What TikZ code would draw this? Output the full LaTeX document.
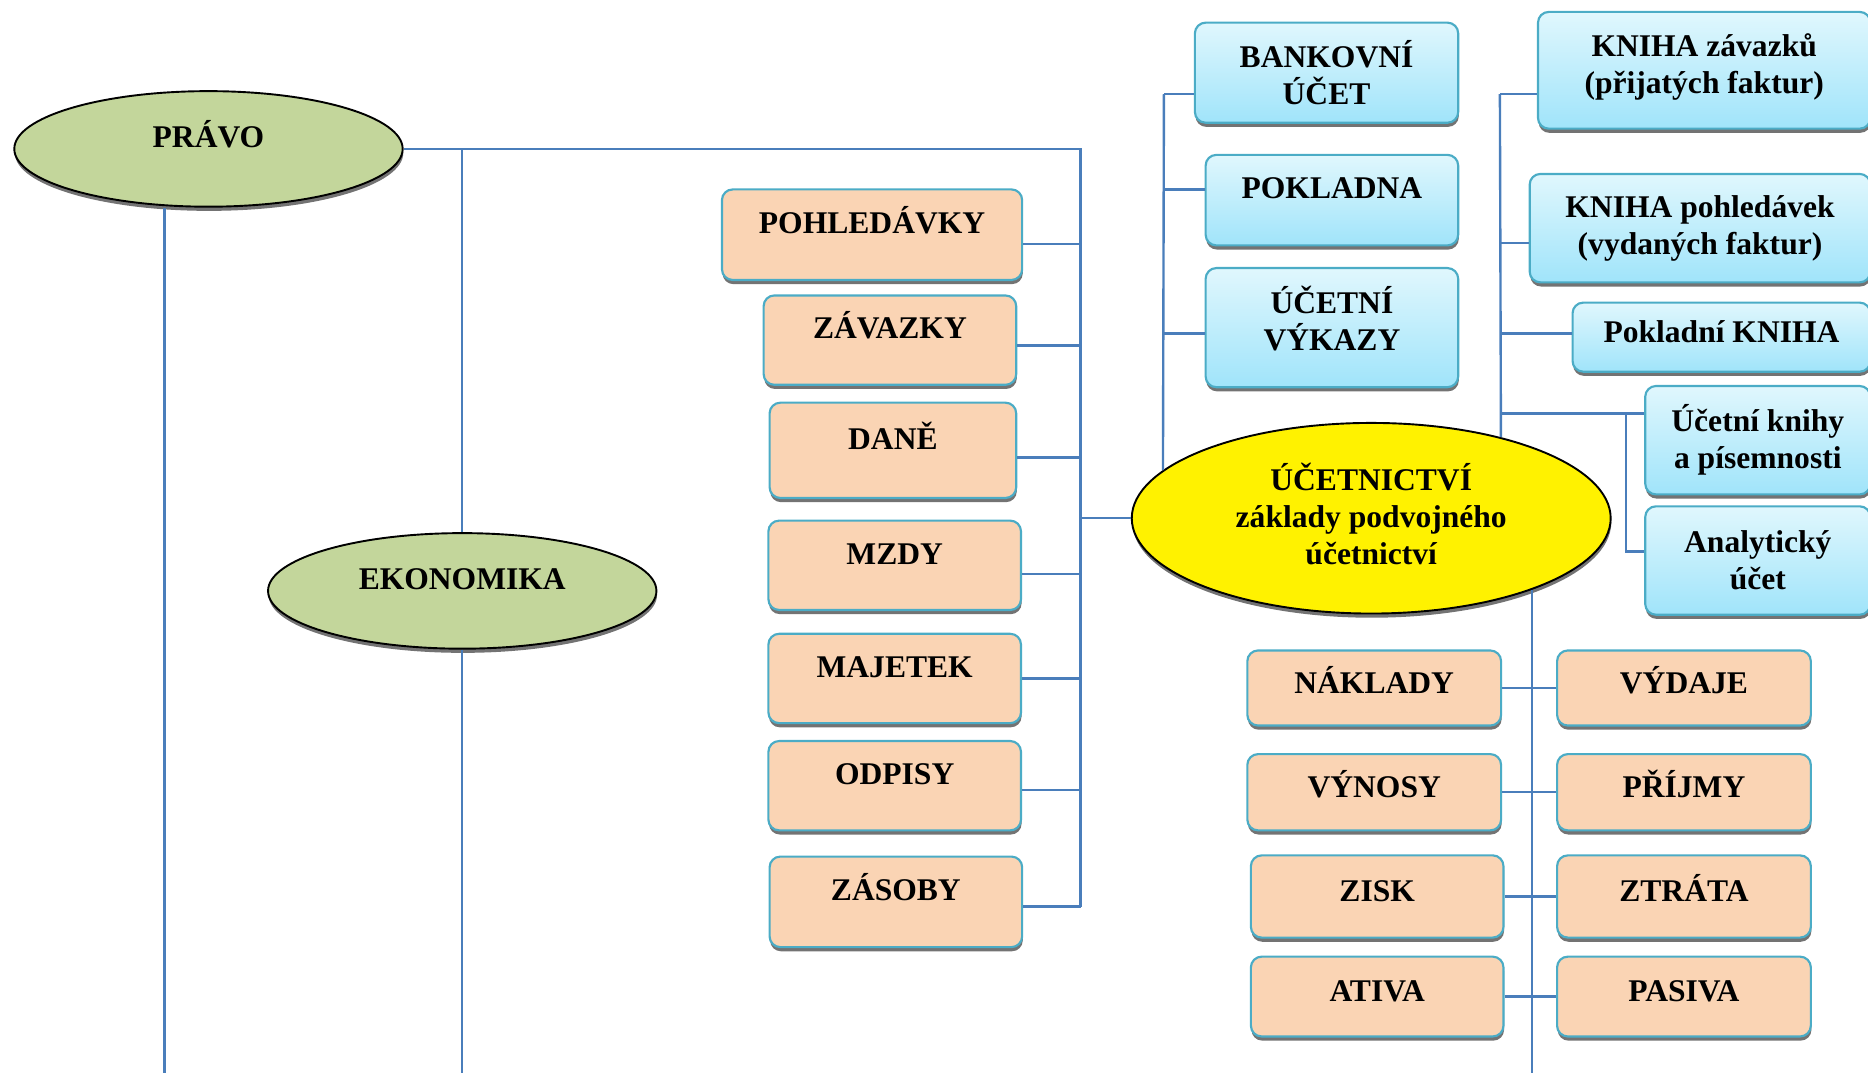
\documentclass[tikz,border=0pt]{standalone}
\usepackage{fontspec}
\setmainfont{Liberation Serif}
\usetikzlibrary{shapes.geometric}
\usetikzlibrary{shadows}

\definecolor{ln}{RGB}{74,126,187}
\definecolor{edge}{RGB}{75,172,198}
\definecolor{peach}{RGB}{250,212,180}
\definecolor{skytop}{RGB}{224,247,253}
\definecolor{skybot}{RGB}{160,228,250}
\definecolor{olive}{RGB}{195,214,155}

\tikzstyle{conn}=[draw=ln, line width=2pt]
\tikzstyle{box}=[rectangle, rounded corners=9pt, draw=edge, line width=1.8pt, align=center, inner sep=2pt,
  drop shadow={shadow xshift=0.5pt, shadow yshift=-3.5pt, fill=black!55, opacity=1}]
\tikzstyle{pbox}=[box, fill=peach]
\tikzstyle{bbox}=[box, top color=skytop, bottom color=skybot]
\tikzstyle{oval}=[ellipse, draw=black, line width=1.6pt, align=center, inner sep=2pt,
  drop shadow={shadow xshift=0.5pt, shadow yshift=-3.5pt, fill=black!55, opacity=1}]
\tikzstyle{high}=[text height=19pt, text depth=21pt]
\tikzstyle{low}=[text height=19pt, text depth=10pt]

\begin{document}
\begin{tikzpicture}[
    every node/.style={font=\bfseries\fontsize{26.5}{31}\selectfont},
    x=1pt, y=-1pt]

      \useasboundingbox (0,0) rectangle (1568,900);
      \clip (0,0) rectangle (1568,900);

      \node[oval, fill=olive, high, minimum width=326pt, minimum height=97pt] (pravo) at (175,125) {PRÁVO};
      \node[oval, fill=olive, high, minimum width=326pt, minimum height=97pt] (ekon) at (388,496) {EKONOMIKA};
      \node[oval, fill=yellow, text depth=8pt, minimum width=402pt, minimum height=160pt] (ucet) at (1151,435)
        {ÚČETNICTVÍ\\základy podvojného\\účetnictví};

      % left column
      \node[pbox, high, minimum width=252pt, minimum height=76pt] (pohl) at (732,197) {POHLEDÁVKY};
      \node[pbox, high, minimum width=212pt, minimum height=75pt] (zav) at (747,285.5) {ZÁVAZKY};
      \node[pbox, high, minimum width=207pt, minimum height=80pt] (dane) at (749.5,378) {DANĚ};
      \node[pbox, high, minimum width=212pt, minimum height=75pt] (mzdy) at (751,474.5) {MZDY};
      \node[pbox, high, minimum width=212pt, minimum height=75pt] (maj) at (751,569.5) {MAJETEK};
      \node[pbox, high, minimum width=212pt, minimum height=75pt] (odp) at (751,659.5) {ODPISY};
      \node[pbox, high, minimum width=212pt, minimum height=76pt] (zas) at (752,757) {ZÁSOBY};

      % top
      \node[bbox, minimum width=221pt, minimum height=84pt] (bank) at (1113.5,61) {BANKOVNÍ\\ÚČET};
      \node[bbox, high, minimum width=212pt, minimum height=76pt] (pokl) at (1118,168) {POKLADNA};
      \node[bbox, text depth=16pt, minimum width=212pt, minimum height=100pt] (vyk) at (1118,275) {ÚČETNÍ\\VÝKAZY};

      \node[bbox, text depth=12pt, minimum width=279pt, minimum height=98pt] (kzav) at (1430.5,59) {KNIHA závazků\\(přijatých faktur)};
      \node[bbox, minimum width=286pt, minimum height=91pt] (kpoh) at (1427,191.5) {KNIHA pohledávek\\(vydaných faktur)};
      \node[bbox, low, minimum width=250pt, minimum height=58pt] (pkn) at (1445,283) {Pokladní KNIHA};
      \node[bbox, minimum width=189pt, minimum height=91pt] (uknih) at (1475.5,369.5) {Účetní knihy\\a písemnosti};
      \node[bbox, minimum width=189pt, minimum height=91pt] (anal) at (1475.5,470.5) {Analytický\\účet};

      % bottom pairs
      \node[pbox, low, minimum width=213pt, minimum height=63pt] (nakl) at (1153.5,577.5) {NÁKLADY};
      \node[pbox, low, minimum width=213pt, minimum height=63pt] (vyd) at (1413.5,577.5) {VÝDAJE};
      \node[pbox, low, minimum width=213pt, minimum height=64pt] (vyn) at (1153.5,665) {VÝNOSY};
      \node[pbox, low, minimum width=213pt, minimum height=64pt] (prij) at (1413.5,665) {PŘÍJMY};
      \node[pbox, low, minimum width=212pt, minimum height=69pt] (zisk) at (1156,752.5) {ZISK};
      \node[pbox, low, minimum width=213pt, minimum height=69pt] (ztr) at (1413.5,752.5) {ZTRÁTA};
      \node[pbox, low, minimum width=212pt, minimum height=67pt] (ativ) at (1156,836.5) {ATIVA};
      \node[pbox, low, minimum width=213pt, minimum height=67pt] (pas) at (1413.5,836.5) {PASIVA};

      \coordinate (busL) at (907,761);
      \coordinate (busA) at (977,79);
      \coordinate (busB) at (1259,79);
      \coordinate (busC) at (1365,347);
      \coordinate (busD) at (1285,905);
      \coordinate (bottom) at (138,905);

      % pravo
      \draw[conn] (pravo.east) -| (busL);
      \draw[conn] (ekon.north |- pravo.east) -- (ekon.north);
      \draw[conn] (ekon.south) -- (ekon.south |- bottom);
      \draw[conn] (bottom |- pravo.south) -- (bottom);
      \draw[conn] (ucet.west) -- (ucet.west -| busL);

      \foreach \b/\s in {pohl/-8pt, zav/-4.5pt, dane/-6pt, mzdy/-7.5pt, maj/0pt, odp/-3.5pt, zas/-4pt}
        \draw[conn] ([yshift=\s]\b.east) -- ([yshift=\s]\b.east -| busL);

      % ucetnictvi
      \draw[conn] (busA) -- (ucet.167);
      \foreach \b/\s in {bank/-18pt, pokl/9pt, vyk/-5pt}
        \draw[conn] ([yshift=\s]\b.west) -- ([yshift=\s]\b.west -| busA);

      \draw[conn] (busB) -- (ucet.32);
      \foreach \b/\s in {kzav/-20pt, kpoh/-12.5pt, pkn/3pt, uknih/22.5pt}
        \draw[conn] ([yshift=\s]\b.west) -- ([yshift=\s]\b.west -| busB);
      \draw[conn] (busC) |- ([yshift=7.5pt]anal.west);

      \draw[conn] (ucet.-24) -- (ucet.-24 |- busD);
      \foreach \a/\b in {nakl/vyd, vyn/prij, zisk/ztr, ativ/pas}
        \draw[conn] (\a.east) -- (\b.west);

    \end{tikzpicture}
\end{document}
